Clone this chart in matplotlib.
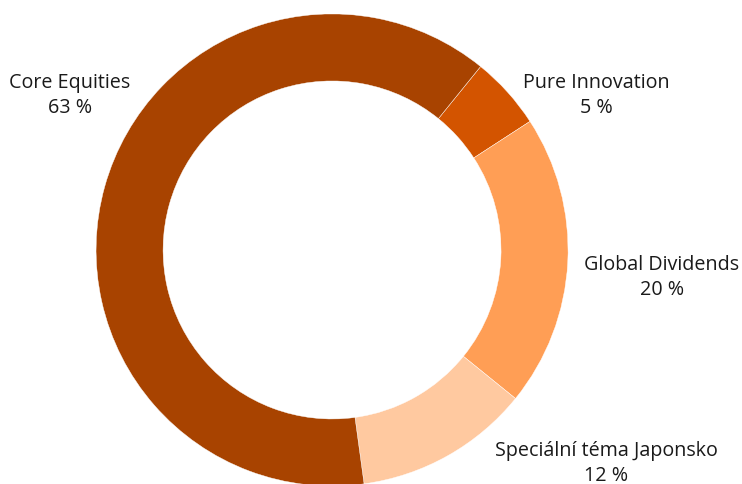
import matplotlib
matplotlib.use("Agg")
import matplotlib.pyplot as plt

# fund allocation, clockwise from the top-right
names = ["Pure Innovation", "Global Dividends", "Speciální téma Japonsko", "Core Equities"]
shares = [5, 20, 12, 63]
colors = ["#D35400", "#FF9E55", "#FFC9A0", "#A84300"]

# label anchor spots (data units, pie radius = 1)
label_xy = [(1.119, 0.655), (1.398, -0.116), (1.161, -0.905), (-1.110, 0.655)]

plt.rcParams["font.family"] = ["Open Sans", "DejaVu Sans"]

fig = plt.figure(figsize=(7.42, 4.84), dpi=100)
ax = fig.add_axes([0, 0, 1, 1])

ax.pie(shares, colors=colors, startangle=51, counterclock=False,
       radius=1.0, wedgeprops=dict(width=0.284, edgecolor="white", linewidth=0.3))

for name, val, (x, y) in zip(names, shares, label_xy):
    ax.text(x, y, f"{name}\n{val} %", ha="center", va="center",
            fontsize=14.2, color="#1a1a1a", linespacing=1.33)

ax.set_xlim(-1.407, 1.737)
ax.set_ylim(-0.9915, 1.059)
ax.set_aspect("equal", adjustable="datalim")
ax.axis("off")

fig.savefig("out.png", dpi=100)
